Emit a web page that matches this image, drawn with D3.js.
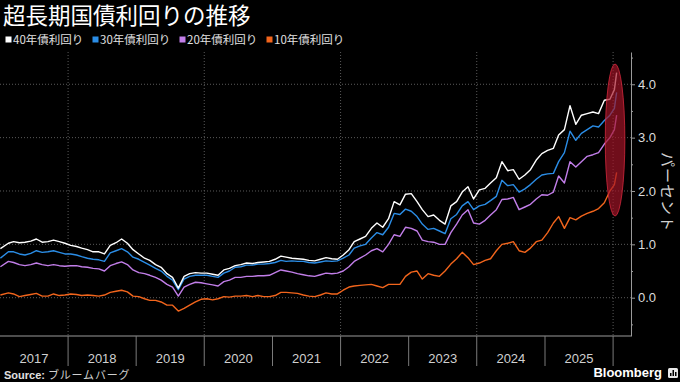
<!DOCTYPE html>
<html>
<head>
<meta charset="utf-8">
<script src="https://cdn.jsdelivr.net/npm/d3@7"></script>
<style>
html, body { margin: 0; padding: 0; background: #000; }
svg { display: block; }
</style>
</head>
<body>
<script>
// 超長期国債利回りの推移 - monthly readings (percent), last two points are Jan 2026

const seriesNames = ['40年債利回り', '30年債利回り', '20年債利回り', '10年債利回り'];
const seriesColors = ['#ffffff', '#2b8de6', '#c27ee9', '#f2651c'];

const yearLabels = ['2017', '2018', '2019', '2020', '2021', '2022', '2023', '2024', '2025'];
const endDates = ['2026-01-08', '2026-01-20'];

const s40 = [
  0.92, 1.02, 1.05, 1.03, 1.04, 1.06, 1.10, 1.04, 1.05, 1.08, 1.05, 1.02,
  0.98, 0.96, 0.93, 0.90, 0.86, 0.86, 0.82, 0.98, 1.03, 1.10, 1.02, 0.90,
  0.82, 0.74, 0.70, 0.62, 0.57, 0.45, 0.38, 0.18, 0.40, 0.45, 0.47, 0.46,
  0.46, 0.44, 0.42, 0.52, 0.55, 0.60, 0.62, 0.65, 0.64, 0.66, 0.67, 0.68,
  0.72, 0.78, 0.76, 0.74, 0.73, 0.72, 0.70, 0.69, 0.72, 0.75, 0.73, 0.72,
  0.80, 0.90, 1.05, 1.10, 1.15, 1.30, 1.40, 1.32, 1.48, 1.80, 1.74, 1.94,
  1.95, 1.80, 1.65, 1.52, 1.55, 1.45, 1.38, 1.72, 1.80, 1.98, 2.08, 1.85,
  2.02, 2.05, 2.15, 2.25, 2.55, 2.38, 2.40, 2.22, 2.30, 2.40, 2.58, 2.70,
  2.76, 2.80, 3.05, 3.15, 3.60, 3.25, 3.42, 3.45, 3.48, 3.45, 3.70, 3.72,
  3.90, 4.22
];
const s30 = [
  0.74, 0.86, 0.86, 0.82, 0.80, 0.83, 0.88, 0.85, 0.86, 0.88, 0.85, 0.82,
  0.82, 0.80, 0.77, 0.74, 0.72, 0.71, 0.68, 0.84, 0.88, 0.92, 0.86, 0.76,
  0.72, 0.66, 0.61, 0.55, 0.50, 0.40, 0.33, 0.15, 0.35, 0.40, 0.42, 0.42,
  0.42, 0.40, 0.38, 0.46, 0.50, 0.57, 0.58, 0.61, 0.61, 0.63, 0.63, 0.64,
  0.66, 0.70, 0.68, 0.69, 0.68, 0.68, 0.66, 0.65, 0.67, 0.69, 0.68, 0.69,
  0.74, 0.80, 0.93, 0.97, 1.00, 1.12, 1.22, 1.18, 1.32, 1.58, 1.56, 1.66,
  1.62, 1.52, 1.38, 1.28, 1.30, 1.25, 1.20, 1.48, 1.56, 1.72, 1.80, 1.65,
  1.72, 1.75, 1.82, 1.90, 2.20, 2.10, 2.12, 1.98, 2.04, 2.12, 2.22, 2.30,
  2.32, 2.33, 2.55, 2.72, 3.12, 2.95, 3.08, 3.15, 3.22, 3.20, 3.32, 3.42,
  3.55, 3.85
];
const s20 = [
  0.58, 0.68, 0.66, 0.62, 0.60, 0.62, 0.65, 0.62, 0.60, 0.62, 0.60, 0.59,
  0.60, 0.60, 0.58, 0.57, 0.55, 0.54, 0.50, 0.60, 0.64, 0.67, 0.62, 0.52,
  0.47, 0.45, 0.42, 0.38, 0.33, 0.25, 0.20, 0.03, 0.20, 0.25, 0.29, 0.28,
  0.26, 0.24, 0.22, 0.30, 0.33, 0.38, 0.38, 0.40, 0.40, 0.41, 0.41, 0.42,
  0.47, 0.52, 0.50, 0.48, 0.45, 0.43, 0.41, 0.40, 0.43, 0.46, 0.45, 0.46,
  0.50, 0.58, 0.68, 0.74, 0.80, 0.88, 0.92, 0.86, 1.00, 1.18, 1.15, 1.32,
  1.30, 1.25, 1.08, 1.05, 1.04, 1.00, 1.00, 1.22, 1.38, 1.55, 1.65, 1.40,
  1.38, 1.45, 1.55, 1.65, 1.84, 1.85, 1.88, 1.65, 1.70, 1.75, 1.85, 1.93,
  1.92, 1.98, 2.28, 2.15, 2.55, 2.45, 2.55, 2.65, 2.68, 2.72, 2.88, 3.00,
  3.15, 3.42
];
const s10 = [
  0.05, 0.09, 0.07, 0.02, 0.04, 0.06, 0.08, 0.03, 0.03, 0.07, 0.04, 0.05,
  0.07, 0.06, 0.04, 0.05, 0.04, 0.03, 0.05, 0.10, 0.12, 0.14, 0.11, 0.03,
  0.02, -0.02, -0.05, -0.05, -0.08, -0.14, -0.14, -0.25, -0.20, -0.14, -0.08, -0.03,
  -0.02, -0.04, -0.02, 0.02, 0.01, 0.03, 0.03, 0.04, 0.02, 0.04, 0.02, 0.02,
  0.04, 0.10, 0.10, 0.09, 0.08, 0.05, 0.03, 0.02, 0.05, 0.09, 0.07, 0.07,
  0.14, 0.20, 0.22, 0.23, 0.24, 0.25, 0.22, 0.19, 0.25, 0.25, 0.25, 0.40,
  0.48, 0.50, 0.35, 0.45, 0.42, 0.40, 0.50, 0.63, 0.73, 0.85, 0.75, 0.62,
  0.65, 0.70, 0.73, 0.88, 1.00, 1.02, 1.05, 0.88, 0.85, 0.93, 1.05, 1.08,
  1.22, 1.40, 1.52, 1.30, 1.50, 1.46, 1.53, 1.58, 1.62, 1.67, 1.78, 2.00,
  2.12, 2.35
];

const yTicks = [0, 1, 2, 3, 4];
const yMinorTicks = [-0.5, 0.5, 1.5, 2.5, 3.5, 4.5];
const highlightDates = ['2025-11-20', '2026-03-05'];
const highlightRange = [1.53, 4.38];

// dates: mid-month for 2017-2025, then the January 2026 readings
const parse = d3.utcParse('%Y-%m-%d');
const dates = d3.utcMonths(new Date(Date.UTC(2017, 0, 1)), new Date(Date.UTC(2026, 0, 1)))
  .map(d => d3.utcDay.offset(d, 14));
dates[0] = new Date(Date.UTC(2017, 0, 3));
endDates.forEach(s => dates.push(parse(s)));

const series = [s40, s30, s20, s10];

const width = 680, height = 382;
const plot = { left: 0, right: 631, top: 52, bottom: 336 };

const svg = d3.select('body').append('svg')
  .attr('width', width)
  .attr('height', height)
  .style('background', '#000');

const x = d3.scaleUtc()
  .domain([new Date(Date.UTC(2017, 0, 1)), new Date(Date.UTC(2026, 3, 7))])
  .range([plot.left, plot.right]);

const y = d3.scaleLinear()
  .domain([-0.718, 4.605])
  .range([plot.bottom, plot.top]);

// title
svg.append('text')
  .attr('x', 3)
  .attr('y', 24)
  .attr('fill', '#fff')
  .style('font-family', '"Noto Sans CJK JP", sans-serif')
  .style('font-size', '22.5px')
  .text('超長期国債利回りの推移');

// legend
const legendX = [5, 92, 179, 266];
const legend = svg.append('g').selectAll('g')
  .data(seriesNames)
  .enter().append('g')
  .attr('transform', (d, i) => 'translate(' + legendX[i] + ',0)');
legend.append('rect')
  .attr('x', 0.5).attr('y', 36.5)
  .attr('width', 6).attr('height', 6)
  .attr('fill', (d, i) => seriesColors[i]);
legend.append('text')
  .attr('x', 8)
  .attr('y', 44)
  .attr('fill', '#e0e0e0')
  .style('font-family', '"Noto Sans CJK JP", sans-serif')
  .style('font-size', '11.5px')
  .text(d => d);

// grid
const grid = svg.append('g');
grid.selectAll('line.h')
  .data(yTicks)
  .enter().append('line')
  .attr('x1', plot.left).attr('x2', plot.right)
  .attr('y1', d => y(d)).attr('y2', d => y(d))
  .attr('stroke', '#5a5a5a')
  .attr('stroke-dasharray', '1,2');
const gridYears = [2018, 2020, 2022, 2024, 2026].map(yr => new Date(Date.UTC(yr, 0, 1)));
grid.selectAll('line.v')
  .data(gridYears)
  .enter().append('line')
  .attr('x1', d => x(d)).attr('x2', d => x(d))
  .attr('y1', plot.top).attr('y2', plot.bottom)
  .attr('stroke', '#5a5a5a')
  .attr('stroke-dasharray', '1,2');

// lines
svg.append('clipPath').attr('id', 'clip')
  .append('rect')
  .attr('x', plot.left).attr('y', plot.top)
  .attr('width', plot.right - plot.left).attr('height', plot.bottom - plot.top);

const line = d3.line()
  .x((d, i) => x(dates[i]))
  .y(d => y(d));

svg.append('g')
  .attr('clip-path', 'url(#clip)')
  .selectAll('path')
  .data(series.slice().reverse())
  .enter().append('path')
  .attr('d', d => line(d))
  .attr('fill', 'none')
  .attr('stroke', (d, i) => seriesColors[series.length - 1 - i])
  .attr('stroke-width', 1.4)
  .attr('stroke-linejoin', 'round');

// highlight ellipse
const hx0 = x(parse(highlightDates[0])), hx1 = x(parse(highlightDates[1]));
const hy0 = y(highlightRange[1]), hy1 = y(highlightRange[0]);
svg.append('ellipse')
  .attr('cx', (hx0 + hx1) / 2)
  .attr('cy', (hy0 + hy1) / 2)
  .attr('rx', (hx1 - hx0) / 2)
  .attr('ry', (hy1 - hy0) / 2)
  .attr('fill', 'rgba(165, 20, 40, 0.68)')
  .attr('stroke', 'rgba(210, 40, 60, 0.8)')
  .attr('stroke-width', 1);

// right axis
const axisFont = '"Liberation Sans", "Noto Sans", sans-serif';
const yAxis = svg.append('g')
  .attr('transform', 'translate(' + plot.right + ',0)')
  .call(d3.axisRight(y).tickValues(yTicks).tickFormat(d3.format('.1f'))
    .tickSize(4).tickSizeOuter(0).tickPadding(3));
yAxis.select('.domain').attr('stroke', '#9a9a9a');
yAxis.selectAll('.tick line').attr('stroke', '#9a9a9a');
yAxis.selectAll('.tick text')
  .attr('fill', '#dcdcdc')
  .style('font-family', axisFont)
  .style('font-size', '13px');

const yMinor = svg.append('g')
  .attr('transform', 'translate(' + plot.right + ',0)')
  .call(d3.axisRight(y).tickValues(yMinorTicks).tickFormat('').tickSize(2).tickSizeOuter(0));
yMinor.select('.domain').remove();
yMinor.selectAll('.tick line').attr('stroke', '#9a9a9a');

svg.append('text')
  .attr('transform', 'translate(668,192) rotate(90)')
  .attr('text-anchor', 'middle')
  .attr('dominant-baseline', 'central')
  .attr('fill', '#cfcfcf')
  .style('font-family', '"Noto Sans CJK JP", sans-serif')
  .style('font-size', '15px')
  .style('letter-spacing', '1px')
  .text('パーセント');

// bottom axis: year bands
svg.append('line')
  .attr('x1', plot.left).attr('x2', plot.right)
  .attr('y1', plot.bottom).attr('y2', plot.bottom)
  .attr('stroke', '#9a9a9a');

const yearStarts = yearLabels.map(s => new Date(Date.UTC(+s, 0, 1)));
const yearEnds = yearLabels.map(s => new Date(Date.UTC(+s + 1, 0, 1)));
svg.append('g').selectAll('line')
  .data(yearEnds)
  .enter().append('line')
  .attr('x1', d => x(d)).attr('x2', d => x(d))
  .attr('y1', plot.bottom).attr('y2', plot.bottom + 30)
  .attr('stroke', '#7a7a7a');
svg.append('g').selectAll('text')
  .data(yearLabels)
  .enter().append('text')
  .attr('x', (d, i) => (x(yearStarts[i]) + x(yearEnds[i])) / 2)
  .attr('y', 362.5)
  .attr('text-anchor', 'middle')
  .attr('fill', '#d0d0d0')
  .style('font-family', axisFont)
  .style('font-size', '13px')
  .text(d => d);

// footer
const source = svg.append('text')
  .attr('x', 4)
  .attr('y', 378.5)
  .attr('fill', '#e0e0e0')
  .style('font-size', '11px');
source.append('tspan')
  .style('font-family', axisFont)
  .style('font-weight', 'bold')
  .text('Source: ');
source.append('tspan')
  .style('font-family', '"Noto Sans CJK JP", sans-serif')
  .style('font-size', '11px')
  .style('letter-spacing', '0.8px')
  .attr('fill', '#cfcfcf')
  .text('ブルームバーグ');

svg.append('text')
  .attr('x', 662)
  .attr('y', 377)
  .attr('text-anchor', 'end')
  .attr('fill', '#fff')
  .style('font-family', axisFont)
  .style('font-weight', 'bold')
  .style('font-size', '13px')
  .text('Bloomberg');

const logo = svg.append('g').attr('transform', 'translate(668,368)');
logo.append('rect')
  .attr('width', 10).attr('height', 10).attr('rx', 1.5)
  .attr('fill', '#e8e8e8');
[[2, 5, 1.5], [4.5, 2, 1.5], [7, 4, 1.5]].forEach(b => {
  logo.append('rect')
    .attr('x', b[0]).attr('y', b[1])
    .attr('width', b[2]).attr('height', 8 - b[1])
    .attr('fill', '#000');
});
</script>
</body>
</html>
